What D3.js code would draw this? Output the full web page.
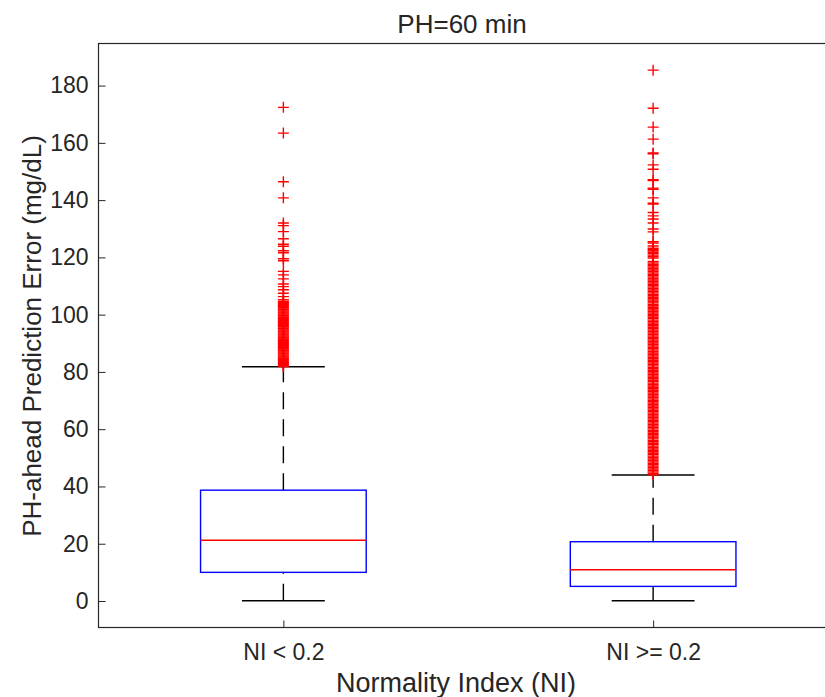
<!DOCTYPE html>
<html><head><meta charset="utf-8">
<script src="https://cdn.jsdelivr.net/npm/d3@7"></script>
<style>body{margin:0;background:#fff}svg{display:block}text{font-family:"Liberation Sans",Arial,sans-serif;fill:#262626}</style>
</head><body><svg id="c" width="825" height="697"></svg>
<script>
const categories = ["NI < 0.2", "NI >= 0.2"];
const q1 = [10.0, 5.1];
const median = [21.2, 10.9];
const q3 = [38.7, 20.7];
const whiskerLow = [0.1, 0.1];
const whiskerHigh = [81.8, 44.0];
const yTicks = [0, 20, 40, 60, 80, 100, 120, 140, 160, 180];
const outliers1 = [81.9,82.2,82.6,83.0,83.3,83.7,84.1,84.4,84.8,85.2,85.5,85.9,86.3,86.6,87.0,87.4,87.7,88.1,88.5,88.8,89.2,89.6,89.9,90.3,90.7,91.0,91.4,91.8,92.1,92.5,92.9,93.2,93.6,94.0,94.3,94.7,95.1,95.4,95.8,96.2,96.5,96.9,97.3,97.6,98.0,98.4,98.7,99.1,99.5,99.8,100.2,100.6,100.9,101.3,101.7,102.0,102.4,102.8,103.1,103.5,103.9,104.2,104.6,
105.2,106.3,107.5,108.7,109.8,110.7,112.5,113.9,115.1,118.8,119.5,121.6,122.3,123.9,124.6,126.5,129.0,131.1,132.0,140.8,146.4,163.4,172.4];
const outliers2 = [44.1,44.6,45.1,45.6,46.1,46.6,47.1,47.6,48.1,48.6,49.1,49.6,50.1,50.6,51.1,51.6,52.1,52.6,53.1,53.6,54.1,54.6,55.1,55.6,56.1,56.6,57.1,57.6,58.1,58.6,59.1,59.6,60.1,60.6,61.1,61.6,62.1,62.6,63.1,63.6,64.1,64.6,65.1,65.6,66.1,66.6,67.1,67.6,68.1,68.6,69.1,69.6,70.1,70.6,71.1,71.6,72.1,72.6,73.1,73.6,74.1,74.6,75.1,75.6,76.1,76.6,77.1,77.6,78.1,78.6,79.1,79.6,80.1,80.6,81.1,81.6,82.1,82.6,83.1,83.6,84.1,84.6,85.1,85.6,86.1,86.6,87.1,87.6,88.1,88.6,89.1,89.6,90.1,90.6,91.1,91.6,92.1,92.6,93.1,93.6,94.1,94.6,95.1,95.6,96.1,96.6,97.1,97.6,98.1,98.6,99.1,99.6,100.1,100.6,101.1,101.6,102.1,102.6,103.1,103.6,104.1,104.6,105.1,105.6,106.1,106.6,107.1,107.6,108.1,108.6,109.1,109.6,110.1,110.6,111.1,111.6,112.1,112.6,113.1,113.6,114.1,114.6,115.1,115.6,116.1,116.6,117.1,117.6,118.1,118.6,119.8,120.3,120.8,121.3,121.8,122.3,122.8,123.2,
124.0,125.0,125.5,128.9,129.9,132.0,133.4,134.5,135.7,138.6,138.9,140.8,143.8,144.2,146.8,147.1,150.8,152.3,156.2,156.5,161.3,165.5,172.1,185.4];
const outliers = [outliers1, outliers2];
const titleText = "PH=60 min";
const xLabel = "Normality Index (NI)";
const yLabel = "PH-ahead Prediction Error (mg/dL)";

const svg = d3.select("#c");
const L = 98.5, R = 838, T = 43.5, B = 627.5;
const x = d3.scaleLinear().domain([0.5, 2.5]).range([L, R]);
const y = d3.scaleLinear().domain([-9.26, 194.7]).range([B, T]);
const boxW = 0.448, capW = 0.224;
const lw = 1.4;

const g = svg.append("g");
categories.forEach((c, i) => {
  const cx = x(i + 1);
  const hb = (x(boxW / 2) - x(0)), hc = (x(capW / 2) - x(0));
  g.append("line").attr("x1", cx).attr("x2", cx).attr("y1", y(q3[i])).attr("y2", y(whiskerHigh[i]))
    .attr("stroke", "#000").attr("stroke-width", lw).attr("stroke-dasharray", "17,10");
  g.append("line").attr("x1", cx).attr("x2", cx).attr("y1", y(whiskerLow[i])).attr("y2", y(q1[i]))
    .attr("stroke", "#000").attr("stroke-width", lw).attr("stroke-dasharray", "17,10");
  [whiskerLow[i], whiskerHigh[i]].forEach(v => {
    g.append("line").attr("x1", cx - hc).attr("x2", cx + hc).attr("y1", y(v)).attr("y2", y(v))
      .attr("stroke", "#000").attr("stroke-width", lw);
  });
  g.append("rect").attr("x", cx - hb).attr("width", 2 * hb).attr("y", y(q3[i])).attr("height", y(q1[i]) - y(q3[i]))
    .attr("fill", "none").attr("stroke", "#0000ff").attr("stroke-width", lw);
  g.append("line").attr("x1", cx - hb).attr("x2", cx + hb).attr("y1", y(median[i])).attr("y2", y(median[i]))
    .attr("stroke", "#ff0000").attr("stroke-width", lw);
  const m = g.append("g");
  outliers[i].forEach(v => {
    m.append("path").attr("d", `M${cx - 5.5},${y(v)}H${cx + 5.5}M${cx},${y(v) - 5.5}V${y(v) + 5.5}`)
      .attr("stroke", "#ff0000").attr("stroke-width", lw).attr("fill", "none");
  });
});

const yAxis = d3.axisLeft(y).tickValues(yTicks).tickSizeInner(-7).tickSizeOuter(0).tickPadding(10);
const ya = svg.append("g").attr("transform", `translate(${L},0)`).call(yAxis);
const xAxis = d3.axisBottom(x).tickValues([1, 2]).tickFormat((d, i) => categories[i]).tickSizeInner(-7).tickSizeOuter(0).tickPadding(16);
const xa = svg.append("g").attr("transform", `translate(0,${B})`).call(xAxis);
[ya, xa].forEach(a => {
  a.select(".domain").remove();
  a.selectAll(".tick line").attr("stroke", "#262626");
  a.selectAll(".tick text").attr("fill", "#262626").style("font-size", "23px").style("font-family", '"Liberation Sans",Arial,sans-serif');
});
svg.append("rect").attr("x", L).attr("y", T).attr("width", R - L).attr("height", B - T)
  .attr("fill", "none").attr("stroke", "#262626").attr("stroke-width", 1.2);

svg.append("text").attr("x", 462).attr("y", 33).attr("text-anchor", "middle").style("font-size", "26px").text(titleText);
svg.append("text").attr("x", 456).attr("y", 692).attr("text-anchor", "middle").style("font-size", "27px").text(xLabel);
svg.append("text").attr("transform", `translate(41,336) rotate(-90)`).attr("text-anchor", "middle").style("font-size", "26px").text(yLabel);
</script></body></html>
